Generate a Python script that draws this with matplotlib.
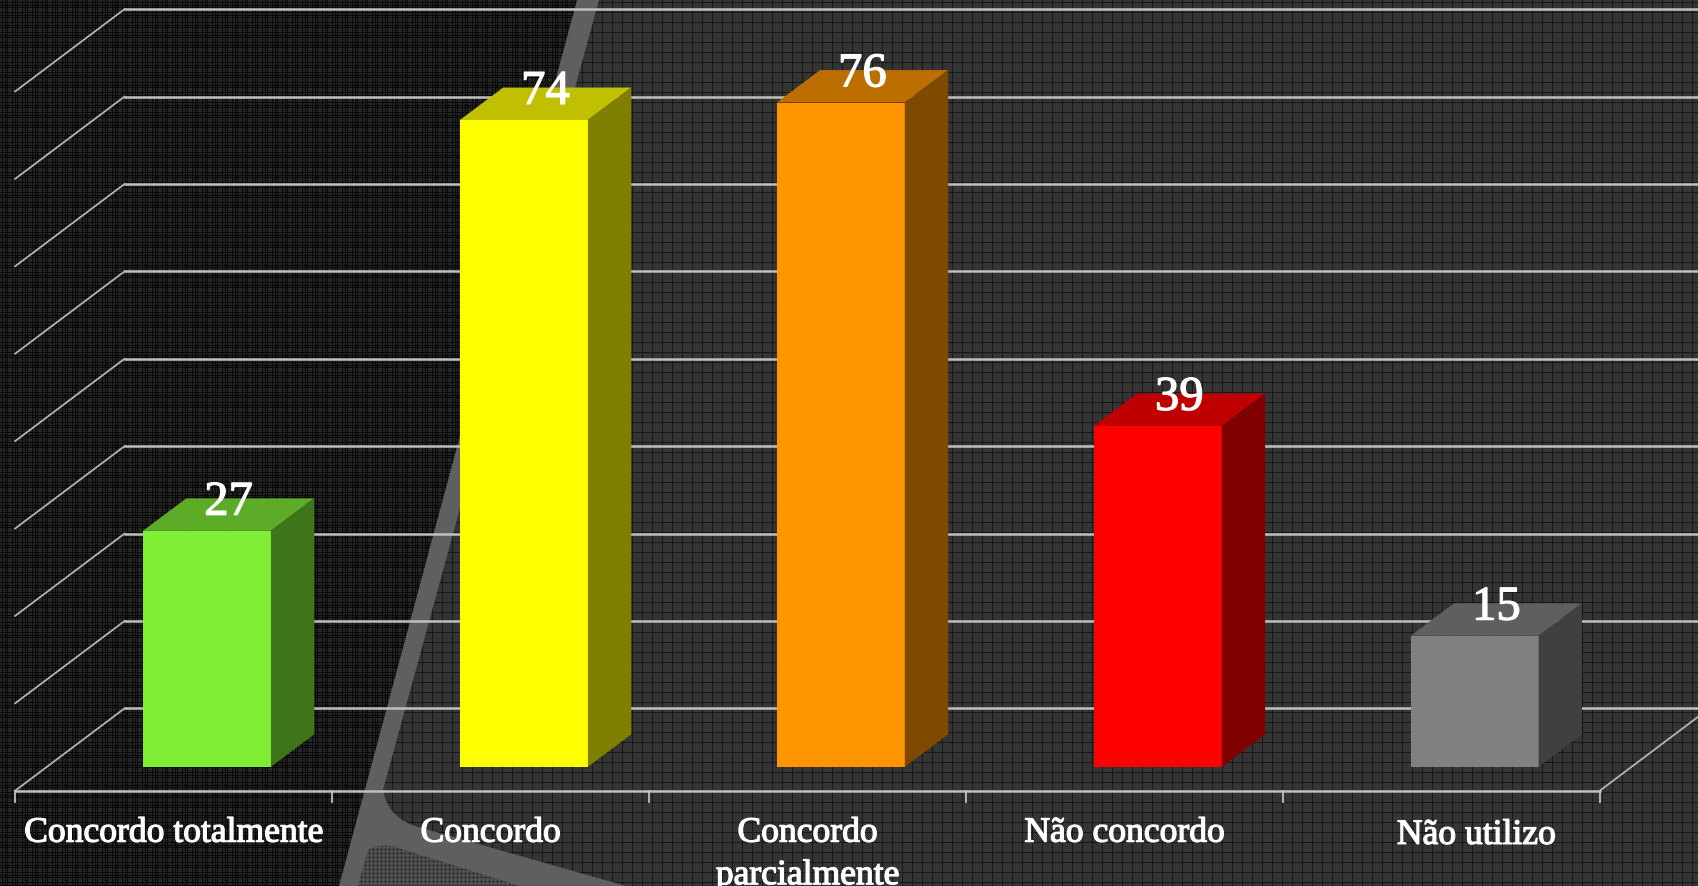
# -*- coding: utf-8 -*-
import numpy as np
import matplotlib
matplotlib.use("Agg")
import matplotlib.pyplot as plt
import matplotlib.patheffects as pe
from matplotlib.patches import Polygon, PathPatch
from matplotlib.path import Path

plt.rcParams['font.family'] = ['Liberation Serif', 'DejaVu Serif']

# Data
categories = ["Concordo totalmente", "Concordo", "Concordo\nparcialmente", "Não concordo", "Não utilizo"]
values = [27, 74, 76, 39, 15]
front_colors = ["#7fee35", "#ffff00", "#ff9500", "#ff0000", "#808080"]
top_colors = ["#5cac27", "#c0c000", "#bd6e00", "#c00000", "#5f5f5f"]
side_colors = ["#3e751a", "#808000", "#7f4a00", "#800000", "#404040"]
grid_values = [0, 10, 20, 30, 40, 50, 60, 70, 80]

W, H = 1699, 886
fig = plt.figure(figsize=(W / 100, H / 100), dpi=100)
fig.patch.set_facecolor("#5f5f5f")

# Background, in pixels
bg = fig.add_axes([0, 0, 1, 1])
bg.set_xlim(0, W)
bg.set_ylim(H, 0)
bg.axis("off")
bg.add_patch(Polygon([(0, 0), (W, 0), (W, H), (0, H)], fc="#5f5f5f", ec="none"))

yy, xx = np.mgrid[0:H, 0:W]
dither = ((xx + yy) % 2) * 1.0

# right side: coarse mesh
right = 0x2e + dither * 12
right[:, (np.arange(W) % 10) == 2] = 0x18
right[(np.arange(H) % 10) == 2, :] = 0x18

# left side: dense dark mesh
left = 0x1e + dither * 14
for p, o in [(10, 2), (10, 5), (10, 7)]:
    left[:, (np.arange(W) % p) == o] = 0x08
    left[(np.arange(H) % p) == o, :] = 0x08

# small patch at the bottom
low = 0x46 + dither * 26
low[:, (np.arange(W) % 4) == 1] = 0x38
low[(np.arange(H) % 4) == 1, :] = 0x38


def texture(tex, verts, codes):
    im = bg.imshow(tex, cmap="gray", vmin=0, vmax=255, extent=(0, W, H, 0),
                   interpolation="nearest", aspect="auto", zorder=1)
    clip = PathPatch(Path(verts, codes), transform=bg.transData, fc="none", ec="none")
    bg.add_patch(clip)
    im.set_clip_path(clip)


M, L, C = Path.MOVETO, Path.LINETO, Path.CURVE3
texture(left, [(0, 0), (577, 0), (339, 886), (0, 886), (0, 0)], [M, L, L, L, L])
texture(right,
        [(599, 0), (W, 0), (W, H), (626, H), (422, 828), (388, 820), (383, 790), (599, 0)],
        [M, L, L, L, L, C, C, L])
texture(low,
        [(358, H), (368, 850), (378, 844), (392, 846), (520, H), (358, H)],
        [M, L, C, C, L, L])
bg.set_xlim(0, W)
bg.set_ylim(H, 0)

# Chart: x in categories, y in values
ax = fig.add_axes([0, 0, 1, 1], facecolor="none")
cat_px = 292.5 * W / 1568
val_px = 8.07 * H / 818
x0_px = 14 * W / 1568
y0_px = 708 * H / 818
ax.set_xlim(-x0_px / cat_px, (W - x0_px) / cat_px)
ax.set_ylim(-(H - y0_px) / val_px, y0_px / val_px)
ax.axis("off")

bar_left = 0.403
bar_w = 0.404
dx = 40 * W / 1568 / cat_px
dy = 30 * H / 818 / val_px
floor_y = -22 * H / 818 / val_px
wall_dx = 101 * W / 1568 / cat_px
wall_dy = 76 * H / 818 / val_px
n = len(categories)
line_c = "#c0c0c0"

for g in grid_values:
    ax.plot([wall_dx, 6], [floor_y + wall_dy + g] * 2, color=line_c, lw=1.8, zorder=2)
    ax.plot([0, wall_dx], [floor_y + g, floor_y + wall_dy + g], color="#b4b4b4", lw=1.3, zorder=2)

ax.plot([0, n], [floor_y, floor_y], color=line_c, lw=1.8, zorder=2)
ax.plot([n, n + wall_dx], [floor_y, floor_y + wall_dy], color="#b4b4b4", lw=1.3, zorder=2)
for i in range(n + 1):
    ax.plot([i, i], [floor_y, floor_y - 1.25], color=line_c, lw=1.3, zorder=2)

for i, v in enumerate(values):
    l = i + bar_left
    r = l + bar_w
    ax.add_patch(Polygon([(l, 0), (r, 0), (r, v), (l, v)], fc=front_colors[i], ec="none", zorder=3))
    ax.add_patch(Polygon([(l, v), (r, v), (r + dx, v + dy), (l + dx, v + dy)], fc=top_colors[i], ec="none", zorder=3))
    ax.add_patch(Polygon([(r, 0), (r + dx, dy), (r + dx, v + dy), (r, v)], fc=side_colors[i], ec="none", zorder=3))
    t = ax.text((l + r + dx) / 2, v + dy - 0.5, str(v), color="white", fontsize=35, ha="center", va="center", zorder=4)
    t.set_path_effects([pe.withStroke(linewidth=0.9, foreground="white")])

label_dx = [0, 0, 0, 0, 0.11]
label_y = [-5.7, -5.7, -5.7, -5.7, -5.95]
for i, name in enumerate(categories):
    t = ax.text(i + 0.5 + label_dx[i], label_y[i], name, color="white", fontsize=25.6, ha="center",
                va="top", linespacing=1.38, zorder=4, clip_on=False)
    t.set_path_effects([pe.withStroke(linewidth=0.9, foreground="white")])

fig.savefig("out.png", dpi=100, facecolor=fig.get_facecolor())
